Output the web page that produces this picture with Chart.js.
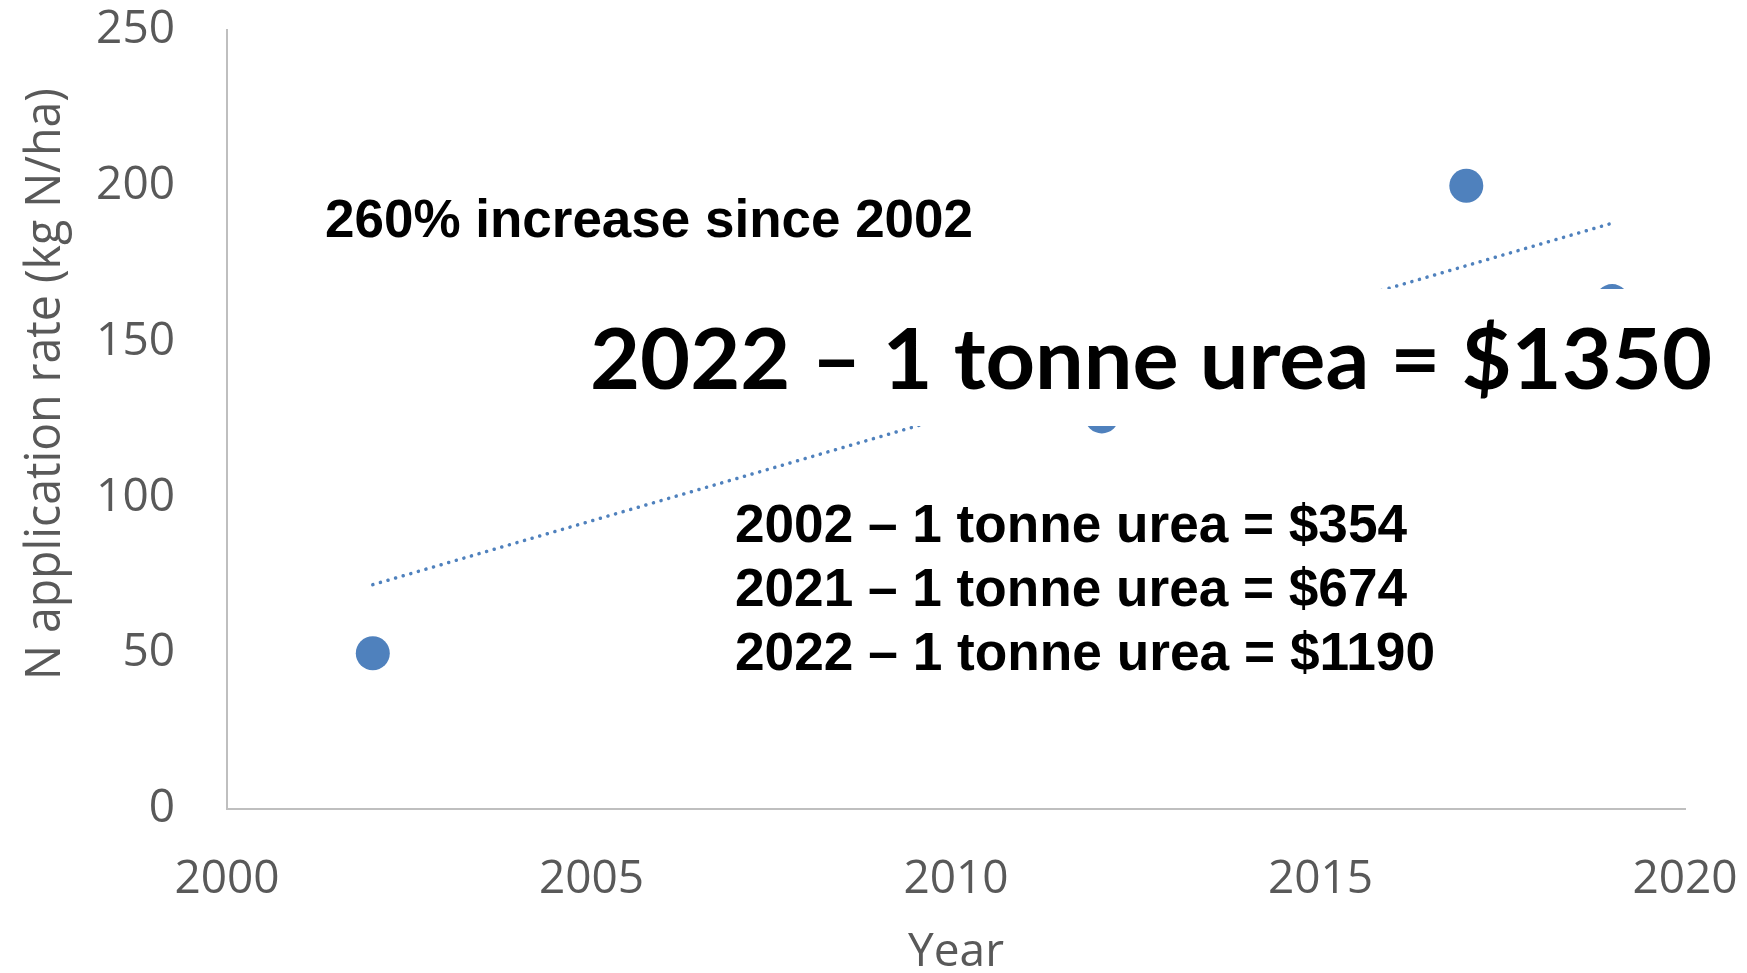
<!DOCTYPE html>
<html>
<head>
<meta charset="utf-8">
<script src="https://cdn.jsdelivr.net/npm/chart.js@4.4.0/dist/chart.umd.min.js"></script>
<style>
  html, body { margin: 0; padding: 0; background: #fff; }
  canvas { display: block; }
</style>
</head>
<body>
<canvas id="nchart" width="1747" height="973"></canvas>
<script>
// values
const years = [2002, 2012, 2017, 2019];
const nRates = [50, 126, 200, 163];
// dotted linear trendline, its two ends
const trendYears = [2002, 2019];
const trendRates = [72, 188];
const xTicks = [2000, 2005, 2010, 2015, 2020];
const yTicks = [0, 50, 100, 150, 200, 250];

const yTitle = 'N application rate (kg N/ha)';
const xTitle = 'Year';
const headline = '260% increase since 2002';
const bigNote = '2022 – 1 tonne urea = $1350';
const priceNotes = ['2002 – 1 tonne urea = $354', '2021 – 1 tonne urea = $674', '2022 – 1 tonne urea = $1190'];

let blue = '#4f81bd';
let grey = '#595959';
let axisGrey = '#bfbfbf';

// draw text squeezed/stretched to a given width
function fitText(ctx, text, x, y, width, font) {
  ctx.save();
  ctx.font = font;
  let w = ctx.measureText(text).width;
  ctx.translate(x, y);
  ctx.scale(width / w, 1);
  ctx.fillText(text, 0, 0);
  ctx.restore();
}

// keep the plot box fixed: no extra room for overflowing tick labels
function noPad(s) {
  s.paddingTop = 0;
  s.paddingBottom = 0;
  s.paddingLeft = 0;
  s.paddingRight = 0;
}

const notes = {
  id: 'notes',
  afterDatasetsDraw(chart) {
    const ctx = chart.ctx;
    ctx.save();
    ctx.textAlign = 'left';
    ctx.textBaseline = 'alphabetic';
    // the big label sits on a white box that hides part of the data
    ctx.fillStyle = '#fff';
    ctx.fillRect(580, 289, 1145, 137);
    ctx.fillStyle = '#000';
    fitText(ctx, headline, 325, 237, 648, 'bold 54px "Liberation Sans"');
    fitText(ctx, bigNote, 590, 389, 1122, 'bold 85px Lato');
    let widths = [672, 672, 700];
    let bases = [542, 606, 670];
    priceNotes.forEach((t, i) => fitText(ctx, t, 735, bases[i], widths[i], 'bold 54px "Liberation Sans"'));
    // y axis title (not centred on the plot in the original)
    ctx.fillStyle = grey;
    ctx.translate(60, 680);
    ctx.rotate(-Math.PI / 2);
    fitText(ctx, yTitle, 0, 0, 592, '50px "Open Sans"');
    ctx.restore();
  }
};

let nChart = new Chart(document.getElementById('nchart').getContext('2d'), {
  type: 'scatter',
  data: {
    datasets: [
      {
        label: 'N rate',
        data: years.map((y, i) => ({x: y, y: nRates[i]})),
        backgroundColor: blue,
        borderWidth: 0,
        pointRadius: 17,
        showLine: false
      },
      {
        label: 'Linear trend',
        data: trendYears.map((y, i) => ({x: y, y: trendRates[i]})),
        showLine: true,
        borderColor: blue,
        borderWidth: 3.5,
        borderDash: [0.1, 7.8],
        borderCapStyle: 'round',
        pointRadius: 0
      }
    ]
  },
  options: {
    responsive: false,
    animation: false,
    layout: { padding: { top: 30, right: 62, left: 0, bottom: 0 } },
    scales: {
      x: {
        type: 'linear',
        min: 2000,
        max: 2020,
        afterBuildTicks: s => { s.ticks = xTicks.map(v => ({value: v})); },
        afterFit: s => { s.height = 164; noPad(s); },
        grid: { display: false, drawTicks: false },
        border: { display: true, color: axisGrey, width: 2 },
        ticks: {
          color: grey,
          padding: 43,
          font: { family: 'Open Sans', size: 46, lineHeight: 1.2 },
          callback: v => String(v)
        },
        title: {
          display: true,
          text: xTitle,
          color: grey,
          font: { family: 'Open Sans', size: 46, lineHeight: 0.87 },
          padding: 0
        }
      },
      y: {
        min: 0,
        max: 250,
        afterBuildTicks: s => { s.ticks = yTicks.map(v => ({value: v})); },
        afterFit: s => { s.width = 227; noPad(s); },
        grid: { display: false, drawTicks: false },
        border: { display: true, color: axisGrey, width: 2 },
        ticks: {
          color: grey,
          padding: 52,
          font: { family: 'Open Sans', size: 46, lineHeight: 1.2 }
        }
      }
    },
    plugins: {
      legend: { display: false },
      tooltip: { enabled: false }
    }
  },
  plugins: [notes]
});
</script>
</body>
</html>
